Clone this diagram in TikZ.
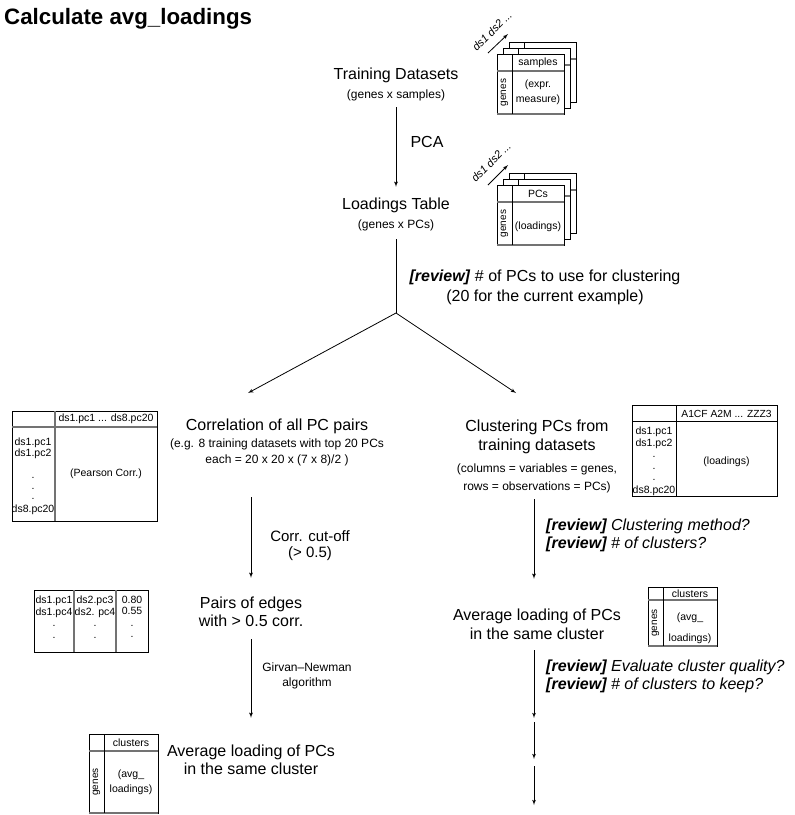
\documentclass[tikz,border=0pt]{standalone}
\usepackage{fontspec}
\setmainfont{Liberation Sans}
\usetikzlibrary{arrows}

\newcommand{\fsz}[2]{\fontsize{#1}{#2}\selectfont}

% genes table: name, left, top, width, height, header height, header, body, body shift
\newcommand{\genebox}[9]{%
  \filldraw[tabframe, fill=white] (#2,#3) rectangle ++(#4,#5);
  \draw[tabrule] (#2,{#3+#6}) -- ++(#4,0);
  \draw[tabrule] (#2,{#3+#5}) -- ++(#4,0);
  \draw[tabframe] ({#2+15},#3) -- ++(0,#5);
  \node[tabtext] (#1head) at ({#2+15+(#4-15)/2},{#3+#6/2}) {#7};
  \node[tabtext, font=\fsz{10}{11}, rotate=90] (#1side) at ({#2+7.5},{#3+#6+(#5-#6)/2}) {genes};
  \node[tabtext, align=center] (#1body) at ({#2+15+(#4-15)/2},{#3+#6+(#5-#6)/2+#9}) {#8};
}
% empty layer behind a genes table: left, top, width, height
\newcommand{\backbox}[4]{%
  \filldraw[tabframe, fill=white] (#1,#2) rectangle ++(#3,#4);
  \draw[tabrule] (#1,{#2+17}) -- ++(#3,0);
  \draw[tabframe] ({#1+15},#2) -- ++(0,#4);
}

\begin{document}
\begin{tikzpicture}[x=1pt,y=-1pt]

\tikzset{block/.style = {align=center, font=\fsz{16}{19}, inner sep=0pt}}
\tikzset{note/.style = {align=center, font=\fsz{12}{16}, inner sep=0pt}}
\tikzset{review/.style = {align=left, font=\fsz{16}{18}\itshape, inner sep=0pt}}
\tikzset{edge/.style = {->, > = latex', line width=0.8pt}}
\tikzset{link/.style = {line width=0.8pt}}
\tikzset{tabframe/.style = {draw, line width=0.8pt}}
\tikzset{tabrule/.style = {draw=black!55, line width=1.4pt}}
\tikzset{tabtext/.style = {font=\fsz{10.5}{11}, inner sep=0pt}}
\tikzset{dslabel/.style = {font=\fsz{11}{13}\itshape, rotate=45, inner sep=0pt}}

\useasboundingbox (0,0) rectangle (795,815);

\node[anchor=base west, inner sep=0pt, font=\fsz{22.3}{26}\bfseries] (heading) at (4,24) {Calculate avg\_loadings};

% steps
\node[block] (train) at (396,75.5) {Training Datasets};
\node[note, minimum height=24pt] (trainnote) at (396,95) {(genes x samples)};
\node[block] (pca) at (427,142) {PCA};
\node[block, minimum height=36pt] (loadings) at (396,205) {Loadings Table};
\node[note, minimum height=28pt] (loadingsnote) at (396,225) {(genes x PCs)};
\coordinate (split) at (396,313);
\node[block, font=\fsz{16}{20}] (pcchoice) at (545,287) {\textbf{\textit{[review]}} \# of PCs to use for clustering\\(20 for the current example)};
\coordinate (corrtip) at (248,393);
\coordinate (clusttip) at (516,393);

\node[block] (corr) at (277,426.5) {Correlation of all PC pairs};
\node[note, minimum height=90pt] (corrnote) at (277,452) {(e.g. 8 training datasets with top 20 PCs\\each = 20 x 20 x (7 x 8)/2 )};
\node[block, font=\fsz{15}{16}] (cutoff) at (310,546) {Corr. cut-off\\(> 0.5)};
\node[block, font=\fsz{16}{18}, minimum height=54pt] (pairs) at (251,612) {Pairs of edges\\with > 0.5 corr.};
\node[note, font=\fsz{12}{15}] (girvan) at (307,676) {Girvan–Newman\\algorithm};
\node[block, font=\fsz{16}{18}, minimum height=84pt] (avgleft) at (251,760) {Average loading of PCs\\in the same cluster};

\node[block] (clust) at (537,436.5) {Clustering PCs from\\training datasets};
\node[note, font=\fsz{12}{18}, minimum height=42pt] (clustnote) at (537,478) {(columns = variables = genes,\\rows = observations = PCs)};
\node[review, anchor=west] (method) at (546,535) {\textbf{[review]} Clustering method?\\\textbf{[review]} \# of clusters?};
\node[block, minimum height=51pt] (avgright) at (537,624.5) {Average loading of PCs\\in the same cluster};
\node[review, anchor=west] (quality) at (546,676) {\textbf{[review]} Evaluate cluster quality?\\\textbf{[review]} \# of clusters to keep?};
\coordinate (gapa) at (534,720);
\coordinate (gapb) at (534,762.5);
\coordinate (endr) at (534,805);

% tables
\foreach \off in {12,6} {\backbox{497+\off}{54-\off}{67}{60}}
\genebox{expr}{497}{54}{67}{60}{17}{samples}{(expr.\\[4pt]measure)}{0}
\node[dslabel] (dsa) at (492,31) {ds1 ds2 ...};
\draw[edge] (488,53) -- (508,34);

\foreach \off in {12,6} {\backbox{497+\off}{185-\off}{67}{60}}
\genebox{pcs}{497}{185}{67}{60}{17}{PCs}{(loadings)}{3}
\node[dslabel] (dsb) at (491,162) {ds1 ds2 ...};
\draw[edge] (488,185) -- (508,165);

\draw[tabframe] (12,411) rectangle (157,521);
\draw[tabrule] (12,427) -- (157,427);
\draw[tabrule] (55,411) -- (55,521);
\node[tabtext] (corrhead) at (106,419) {ds1.pc1 ... ds8.pc20};
\node[tabtext, font=\fsz{10.5}{10.5}, align=center] (corrrows) at (33,476.5) {ds1.pc1\\ds1.pc2\\[12pt].\\.\\.\\[2.5pt]ds8.pc20};
\node[tabtext] (corrbody) at (106,474) {(Pearson Corr.)};

\draw[tabframe] (632,405) rectangle (777,496);
\draw[tabframe] (632,421) -- (777,421);
\draw[tabframe] (676,405) -- (676,496);
\node[tabtext, font=\fsz{10.3}{11}] (clusthead) at (726.5,413.5) {A1CF A2M ... ZZZ3};
\node[tabtext, font=\fsz{10.5}{11.5}, align=center] (clustrows) at (654,461.5) {ds1.pc1\\ds1.pc2\\.\\.\\.\\[1.5pt]ds8.pc20};
\node[tabtext] (clustbody) at (726.5,462) {(loadings)};

\draw[tabframe] (34,590) rectangle (148,652);
\draw[tabrule] (74,590) -- (74,652);
\draw[tabrule] (116,590) -- (116,652);
\node[tabtext, font=\fsz{10.5}{11.5}, align=center] (pairsa) at (54,617) {ds1.pc1\\ds1.pc4\\.\\.};
\node[tabtext, font=\fsz{10.5}{11.5}, align=center] (pairsb) at (95,617) {ds2.pc3\\ds2. pc4\\.\\.};
\node[tabtext, font=\fsz{10.5}{11.5}, align=center] (pairsc) at (132,617) {0.80\\0.55\\.\\.};

\genebox{avgr}{648}{587}{69}{59}{13}{clusters}{(avg\_\\[10pt]loadings)}{5}
\genebox{avgl}{89}{734}{69}{79}{17}{clusters}{(avg\_\\[4pt]loadings)}{0}

%edges
\draw[edge] (trainnote) -- (loadings);
\draw[link] (loadingsnote) -- (split);
\draw[edge] (split) -- (corrtip);
\draw[edge] (split) -- (clusttip);
\draw[edge, shorten >=7pt] (corrnote.south -| pairs.north) -- (pairs.north);
\draw[edge] (pairs) -- (avgleft);
\draw[edge, shorten >=20pt] (clustnote.south -| gapa) -- (avgright.north -| gapa);
\draw[edge, shorten >=2pt] (avgright.south -| gapa) -- (gapa);
\draw[edge, shorten <=2pt, shorten >=3.5pt] (gapa) -- (gapb);
\draw[edge, shorten <=3.5pt] (gapb) -- (endr);
\end{tikzpicture}
\end{document}
